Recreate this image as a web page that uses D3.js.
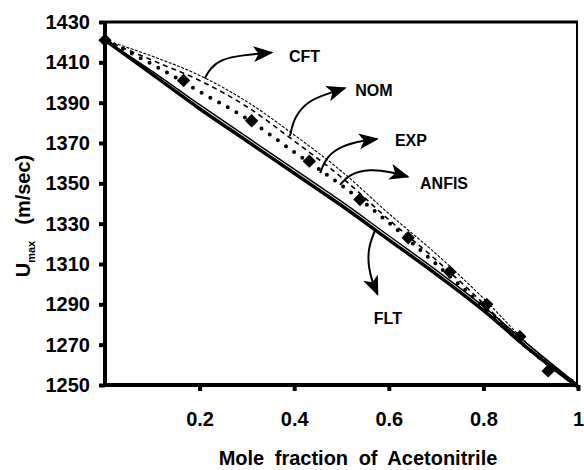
<!DOCTYPE html>
<html><head><meta charset="utf-8">
<script src="https://cdn.jsdelivr.net/npm/d3@7"></script>
<style>
html,body{margin:0;padding:0;background:#fff;}
svg{display:block;font-family:"Liberation Sans",Arial,Helvetica,sans-serif;}
</style></head>
<body><svg id="chart" width="584" height="470"></svg>
<script>
// ---- data ----
const xGrid = [0, 0.1, 0.2, 0.3, 0.4, 0.5, 0.6, 0.7, 0.8, 0.9, 1.0];
const cftValues   = [1421, 1413, 1403.5, 1390.5, 1374, 1356, 1335, 1315, 1293, 1269, 1250];
const nomValues   = [1421, 1411, 1401, 1388, 1371, 1353, 1332, 1312, 1290.5, 1267, 1250];
const anfisValues = [1421, 1409, 1395.5, 1382, 1365.5, 1349, 1330.5, 1310, 1289, 1267, 1250];
const fltValues   = [1421, 1404, 1387, 1371, 1355, 1339, 1322, 1305, 1287, 1267, 1249];
const fltInnerValues = [1421, 1405.5, 1389, 1373, 1357, 1341, 1324, 1307, 1289, 1269, 1250];
const expX = [0, 0.166, 0.31, 0.432, 0.539, 0.641, 0.729, 0.807, 0.877, 0.937];
const expValues = [1421, 1401, 1381, 1361, 1342, 1323, 1306, 1290, 1274, 1257];
const yTicks = [1250, 1270, 1290, 1310, 1330, 1350, 1370, 1390, 1410, 1430];
const xTicks = [0.2, 0.4, 0.6, 0.8, 1];
const xTickLabels = ["0.2", "0.4", "0.6", "0.8", "1"];
const xTitle = "Mole fraction of Acetonitrile";
// annotation labels and arrow paths (data units)
const labels = ["CFT", "NOM", "EXP", "ANFIS", "FLT"];
const labelPos = [[0.389, 1413], [0.529, 1396.3], [0.613, 1371.5], [0.666, 1350.1], [0.598, 1283.2]];
const labelAnchor = ["start", "start", "start", "start", "middle"];
const arrowPaths = [
  [[0.211,1402],[0.222,1407],[0.245,1411.5],[0.29,1413.6],[0.352,1414.8]],
  [[0.391,1373.4],[0.400,1383],[0.430,1391],[0.469,1394.3],[0.507,1397.2]],
  [[0.455,1355.1],[0.468,1363.5],[0.505,1369],[0.543,1371],[0.575,1372]],
  [[0.497,1349.2],[0.516,1354.6],[0.560,1357.1],[0.605,1355.6],[0.640,1353.3]],
  [[0.571,1326.8],[0.556,1317.9],[0.557,1308],[0.566,1300.6],[0.576,1295]]
];

// ---- layout ----
const svg = d3.select("#chart");
const x = d3.scaleLinear().domain([0, 1]).range([105, 578]);
const y = d3.scaleLinear().domain([1250, 1430]).range([385, 22]);

// frame (top & right)
svg.append("line").attr("x1", x(0)).attr("x2", x(1)).attr("y1", y(1430)).attr("y2", y(1430))
  .attr("stroke", "#000").attr("stroke-width", 3);
svg.append("line").attr("x1", x(1) - 1).attr("x2", x(1) - 1).attr("y1", y(1430)).attr("y2", y(1250))
  .attr("stroke", "#000").attr("stroke-width", 2);

// axes
const yAxis = svg.append("g").attr("transform", `translate(${x(0)},0)`)
  .call(d3.axisLeft(y).tickValues(yTicks).tickSize(6).tickPadding(9).tickFormat(d3.format("d")));
const xAxis = svg.append("g").attr("transform", `translate(0,${y(1250)})`)
  .call(d3.axisBottom(x).tickValues(xTicks).tickSize(6).tickPadding(21)
    .tickFormat((d, i) => xTickLabels[i]));
[yAxis, xAxis].forEach(g => {
  g.select(".domain").attr("stroke-width", 4).attr("stroke", "#000");
  g.selectAll(".tick line").attr("stroke-width", 4).attr("stroke", "#000");
  g.selectAll(".tick text").attr("fill", "#000").attr("font-size", 20).attr("font-weight", "bold")
    .attr("font-family", "Liberation Sans, Arial, sans-serif");
});
yAxis.select(".domain").attr("d", `M-0,${y(1250)}V${y(1430)}`);
xAxis.select(".domain").attr("d", `M${x(0)},0H${x(1)}`);

// axis titles
svg.append("text").attr("x", 358).attr("y", 465).attr("text-anchor", "middle")
  .attr("font-size", 20).attr("font-weight", "bold").attr("word-spacing", 5).text(xTitle);
const yt = svg.append("text").attr("transform", "translate(30,216) rotate(-90)")
  .attr("text-anchor", "middle").attr("font-size", 20).attr("font-weight", "bold");
yt.append("tspan").text("U");
yt.append("tspan").attr("font-size", 11).attr("dy", 5).text("max");
yt.append("tspan").attr("dy", -5).attr("dx", 16).text("(m/sec)");

// ---- curves ----
const line = d3.line().x(d => x(d[0])).y(d => y(d[1])).curve(d3.curveMonotoneX);
const series = (vals) => xGrid.map((g, i) => [g, vals[i]]);

svg.append("path").attr("d", line(series(cftValues))).attr("fill", "none")
  .attr("stroke", "#000").attr("stroke-width", 1.1).attr("stroke-dasharray", "3,1.5");
svg.append("path").attr("d", line(series(nomValues))).attr("fill", "none")
  .attr("stroke", "#000").attr("stroke-width", 1.6).attr("stroke-dasharray", "5,4");
svg.append("path").attr("d", line(series(anfisValues))).attr("fill", "none")
  .attr("stroke", "#000").attr("stroke-width", 4).attr("stroke-linecap", "round")
  .attr("stroke-dasharray", "0,10");
svg.append("path").attr("d", line(series(fltInnerValues))).attr("fill", "none")
  .attr("stroke", "#000").attr("stroke-width", 1.5);
svg.append("path").attr("d", line(series(fltValues))).attr("fill", "none")
  .attr("stroke", "#000").attr("stroke-width", 3.5);

// EXP diamonds
svg.selectAll(".exp").data(expX.map((v, i) => [v, expValues[i]])).enter().append("path")
  .attr("class", "exp")
  .attr("transform", d => `translate(${x(d[0])},${y(d[1])}) rotate(45)`)
  .attr("d", d3.symbol().type(d3.symbolSquare).size(90))
  .attr("fill", "#000");

// ---- annotations ----
svg.append("defs").append("marker").attr("id", "ah")
  .attr("markerUnits", "userSpaceOnUse").attr("markerWidth", 22).attr("markerHeight", 16)
  .attr("refX", 18).attr("refY", 8).attr("orient", "auto")
  .append("path").attr("d", "M0,0 L20,8 L0,16 L5,8 Z").attr("fill", "#000");
const aline = d3.line().x(d => x(d[0])).y(d => y(d[1])).curve(d3.curveBasis);
svg.selectAll(".arrow").data(arrowPaths).enter().append("path").attr("class", "arrow")
  .attr("d", aline).attr("fill", "none").attr("stroke", "#000").attr("stroke-width", 2)
  .attr("marker-end", "url(#ah)");
svg.selectAll(".lbl").data(labels).enter().append("text").attr("class", "lbl")
  .attr("x", (d, i) => x(labelPos[i][0])).attr("y", (d, i) => y(labelPos[i][1]))
  .attr("dy", "0.35em").attr("text-anchor", (d, i) => labelAnchor[i])
  .attr("font-size", 16).attr("font-weight", "bold").text(d => d);
</script></body></html>
